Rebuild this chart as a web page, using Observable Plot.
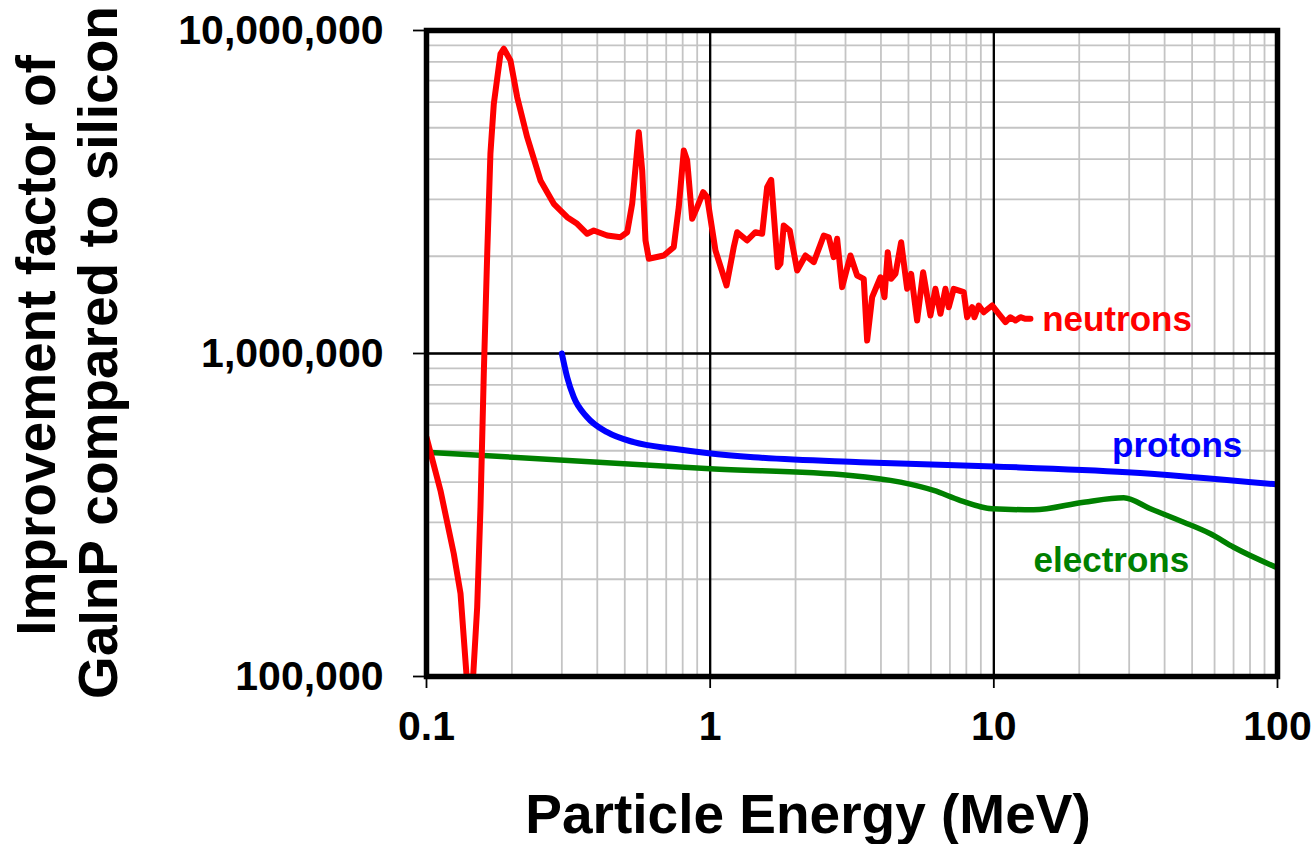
<!DOCTYPE html>
<html>
<head>
<meta charset="utf-8">
<script src="https://cdn.jsdelivr.net/npm/d3@7"></script>
<script src="https://cdn.jsdelivr.net/npm/@observablehq/plot@0.6"></script>
<style>
  html, body { margin: 0; padding: 0; background: #fff; }
</style>
</head>
<body>
<div id="chart"></div>
<script>
// Neutrons (jagged curve)
const neutronE = [0.1, 0.112, 0.1248, 0.1318, 0.1385, 0.146, 0.1509, 0.155, 0.1592, 0.1637, 0.168, 0.1727, 0.1823, 0.1873, 0.1977, 0.2088, 0.2264, 0.2522, 0.281, 0.3133, 0.3398, 0.3685, 0.3888, 0.4335, 0.4829, 0.5099, 0.531, 0.5602, 0.5759, 0.5916, 0.6077, 0.6862, 0.744, 0.775, 0.8072, 0.8297, 0.8641, 0.9, 0.9448, 0.9759, 1.044, 1.142, 1.211, 1.245, 1.35, 1.444, 1.525, 1.588, 1.641, 1.731, 1.769, 1.817, 1.908, 2.026, 2.168, 2.319, 2.515, 2.618, 2.727, 2.803, 2.919, 3.123, 3.297, 3.479, 3.576, 3.724, 3.984, 4.116, 4.227, 4.345, 4.5, 4.712, 4.948, 5.111, 5.365, 5.633, 5.976, 6.224, 6.483, 6.751, 6.934, 7.222, 7.832, 8.052, 8.385, 8.543, 8.847, 9.213, 9.862, 10.41, 10.99, 11.44, 11.92, 12.41, 12.93, 13.46];
const neutronV = [550000, 376700, 239900, 180700, 100000, 100000, 164000, 334300, 865000, 2036000, 4152000, 5930000, 8470000, 8780000, 8075000, 6218000, 4673000, 3433000, 2908000, 2642000, 2521000, 2348000, 2403000, 2319000, 2291000, 2374000, 2908000, 4842000, 3686000, 2238000, 1965000, 2011000, 2134000, 2838000, 4252000, 3958000, 2612000, 2838000, 3158000, 3047000, 2084000, 1624000, 2134000, 2374000, 2238000, 2374000, 2348000, 3273000, 3450000, 1850000, 1896000, 2491000, 2403000, 1807000, 2011000, 1918000, 2319000, 2291000, 1987000, 2265000, 1605000, 2011000, 1744000, 1703000, 1097000, 1494000, 1722000, 1494000, 2059000, 1703000, 1765000, 2211000, 1586000, 1765000, 1265000, 1785000, 1311000, 1586000, 1327000, 1586000, 1391000, 1586000, 1548000, 1295000, 1391000, 1295000, 1408000, 1342000, 1408000, 1327000, 1250000, 1295000, 1265000, 1295000, 1281000, 1281000];

// Protons
const protonE = [0.3, 0.3133, 0.3305, 0.3685, 0.4335, 0.538, 0.744, 0.9886, 1.424, 3.387, 10, 29.5, 100];
const protonV = [1000000, 844700, 732300, 635000, 570600, 531500, 507000, 491300, 477500, 460800, 446900, 429000, 393000];

// Electrons
const electronE = [0.1, 1.0, 3.123, 4.686, 6.139, 7.63, 9.86, 13.82, 20.75, 28.7, 35.65, 46.71, 58.0, 70.1, 100];
const electronV = [494800, 439500, 419300, 399600, 376600, 350600, 330600, 328200, 346500, 357600, 330600, 300400, 276600, 251300, 217000];

// Series labels
const labelText = ["neutrons", "protons", "electrons"];
const labelE = [14.8, 26.1, 13.8];
const labelV = [1276000, 517100, 227900];
const labelColor = ["#ff0000", "#0000ff", "#008000"];

// Axis ticks
const xTicks = [0.1, 1, 10, 100];
const xTickLabels = ["0.1", "1", "10", "100"];
const yTicks = [100000, 1000000, 10000000];
const yTickLabels = ["100,000", "1,000,000", "10,000,000"];
const xMajor = [1, 10];
const yMajor = [1000000];

const xTitle = "Particle Energy (MeV)";
const yTitle1 = "Improvement factor of";
const yTitle2 = "GaInP compared to silicon";

const toRows = (E, V) => E.map((e, i) => ({e, v: V[i]}));
const neutrons = toRows(neutronE, neutronV);
const protons = toRows(protonE, protonV);
const electrons = toRows(electronE, electronV);
const labels = labelText.map((t, i) => ({t, e: labelE[i], v: labelV[i], c: labelColor[i]}));

const xMinor = d3.scaleLog().domain([0.1, 100]).ticks();
const yMinor = d3.scaleLog().domain([1e5, 1e7]).ticks();

const chart = Plot.plot({
  width: 1313,
  height: 844,
  marginLeft: 426,
  marginRight: 36,
  marginTop: 30,
  marginBottom: 168,
  style: "font-family: 'Liberation Sans', Arial, sans-serif; font-weight: bold; font-size: 41px; background: #fff; color: #000; overflow: visible;",
  x: {type: "log", domain: [0.1, 100]},
  y: {type: "log", domain: [1e5, 1e7]},
  marks: [
    Plot.ruleX(xMinor, {stroke: "#c4c4c4", strokeWidth: 1.8}),
    Plot.ruleY(yMinor, {stroke: "#c4c4c4", strokeWidth: 1.8}),
    Plot.ruleX(xMajor, {stroke: "#000", strokeWidth: 2.3}),
    Plot.ruleY(yMajor, {stroke: "#000", strokeWidth: 2.3}),
    Plot.line(electrons, {x: "e", y: "v", stroke: "#008000", strokeWidth: 5.5, curve: "monotone-x", clip: true}),
    Plot.line(protons, {x: "e", y: "v", stroke: "#0000ff", strokeWidth: 6, curve: "monotone-x", clip: true}),
    Plot.line(neutrons, {x: "e", y: "v", stroke: "#ff0000", strokeWidth: 6, strokeLinejoin: "round", clip: true}),
    Plot.frame({stroke: "#000", strokeWidth: 5.5}),
    Plot.axisX({ticks: xTicks, tickFormat: (d) => xTickLabels[xTicks.indexOf(d)], tickSize: 12, tickPadding: 22, label: null, fontSize: 41, strokeWidth: 1.8}),
    Plot.axisY({ticks: yTicks, tickFormat: (d) => yTickLabels[yTicks.indexOf(d)], tickSize: 13, tickPadding: 30, label: null, fontSize: 41, strokeWidth: 1.8}),
    Plot.text(labels, {x: "e", y: "v", text: "t", fill: "c", textAnchor: "start", lineAnchor: "middle", fontSize: 35, fontWeight: "bold"}),
    Plot.text([xTitle], {frameAnchor: "bottom", text: (d) => d, textAnchor: "middle", dx: -44, dy: 139, lineAnchor: "middle", fontSize: 55, fontWeight: "bold", fill: "#000"}),
    Plot.text([yTitle1], {frameAnchor: "left", text: (d) => d, textAnchor: "middle", rotate: -90, dx: -389, dy: -8, lineAnchor: "middle", fontSize: 55, fontWeight: "bold", fill: "#000"}),
    Plot.text([yTitle2], {frameAnchor: "left", text: (d) => d, textAnchor: "middle", rotate: -90, dx: -327, dy: -1, lineAnchor: "middle", fontSize: 55, fontWeight: "bold", fill: "#000"})
  ]
});
document.getElementById("chart").appendChild(chart);
</script>
</body>
</html>
